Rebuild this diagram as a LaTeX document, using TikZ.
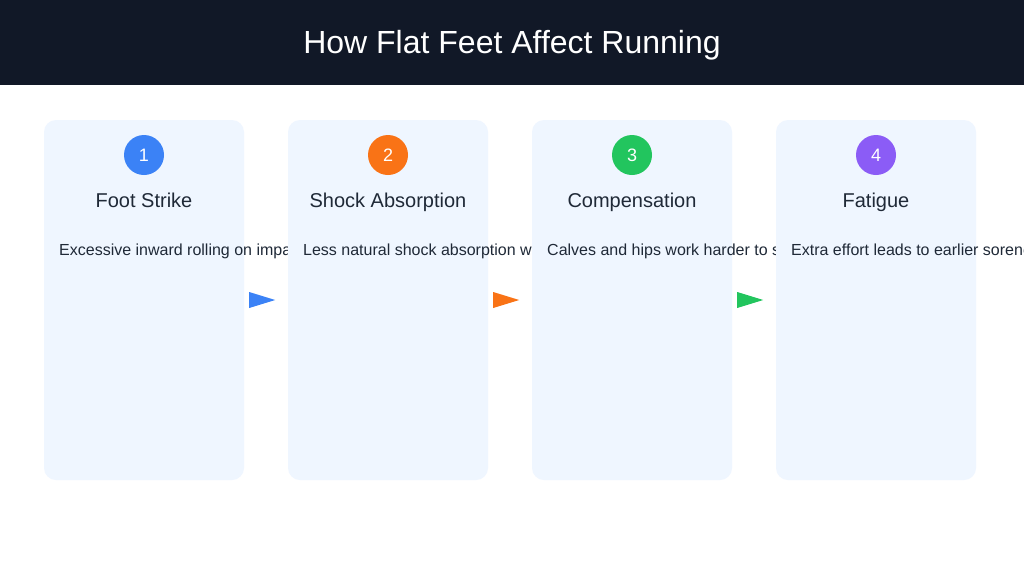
\documentclass[tikz,border=0pt]{standalone}
\usepackage{fontspec}
\setmainfont{Liberation Sans}
\usetikzlibrary{calc}
\definecolor{hdr}{HTML}{111827}
\definecolor{cardbg}{HTML}{EFF6FF}
\definecolor{ink}{HTML}{1F2937}
\definecolor{cblue}{HTML}{3B82F6}
\definecolor{corange}{HTML}{F97316}
\definecolor{cgreen}{HTML}{22C55E}
\definecolor{cpurple}{HTML}{8B5CF6}
\tikzset{
  card/.style={fill=cardbg, draw=none, rounded corners=12pt, minimum width=200pt, minimum height=360pt, inner sep=0pt},
  badge/.style={circle, fill=#1, minimum size=40pt, inner sep=0pt},
  badgenum/.style={text=white, font=\fontsize{18pt}{20pt}\selectfont, inner sep=0pt, anchor=base},
  steptitle/.style={text=ink, font=\fontsize{20pt}{24pt}\selectfont, inner sep=0pt, anchor=base},
  desc/.style={text=ink, font=\fontsize{16pt}{19pt}\selectfont, anchor=base west, inner sep=0pt},
  headtitle/.style={text=white, font=\fontsize{32pt}{38pt}\selectfont, inner sep=0pt, anchor=base}
}
\newcommand{\flowtri}[2]{%
  \fill[#2] ($(#1.east)+(5pt,8pt)$) -- ($(#1.east)+(31pt,0pt)$) -- ($(#1.east)+(5pt,-8pt)$) -- cycle;}
\begin{document}
\begin{tikzpicture}[x=1pt,y=-1pt]
\useasboundingbox (0,0) rectangle (1024,576);
\clip (0,0) rectangle (1024,576);
\fill[white] (0,0) rectangle (1024,576);
\fill[hdr] (0,0) rectangle (1024,85);
\node[headtitle] (title) at (512,53) {How Flat Feet Affect Running};

\node[card] (card1) at (144,300) {};
\node[badge=cblue] (b1) at (144,155) {};
\node[badgenum] (n1) at (144,161.5) {1};
\node[steptitle] (t1) at (144,207) {Foot Strike};
\node[desc] (d1) at (59,255) {Excessive inward rolling on impa};

\node[card] (card2) at (388,300) {};
\node[badge=corange] (b2) at (388,155) {};
\node[badgenum] (n2) at (388,161.5) {2};
\node[steptitle] (t2) at (388,207) {Shock Absorption};
\node[desc] (d2) at (303,255) {Less natural shock absorption w};

\node[card] (card3) at (632,300) {};
\node[badge=cgreen] (b3) at (632,155) {};
\node[badgenum] (n3) at (632,161.5) {3};
\node[steptitle] (t3) at (632,207) {Compensation};
\node[desc] (d3) at (547,255) {Calves and hips work harder to s};

\node[card] (card4) at (876,300) {};
\node[badge=cpurple] (b4) at (876,155) {};
\node[badgenum] (n4) at (876,161.5) {4};
\node[steptitle] (t4) at (876,207) {Fatigue};
\node[desc] (d4) at (791,255) {Extra effort leads to earlier sorene};

\flowtri{card1}{cblue}
\flowtri{card2}{corange}
\flowtri{card3}{cgreen}
\end{tikzpicture}
\end{document}
